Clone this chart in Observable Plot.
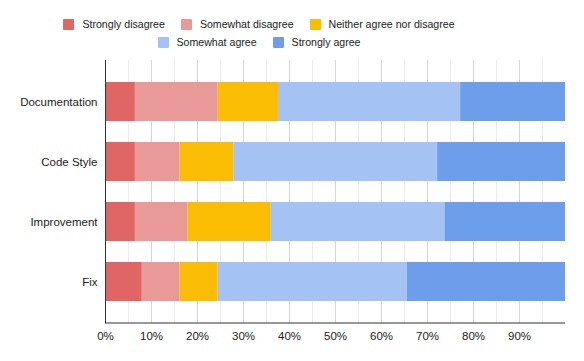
<!DOCTYPE html>
<html>
<head>
<meta charset="utf-8">
<script src="https://cdn.jsdelivr.net/npm/d3@7"></script>
<script src="https://cdn.jsdelivr.net/npm/@observablehq/plot@0.6"></script>
<style>
  html, body { margin: 0; padding: 0; background: #fff; }
  body { width: 584px; height: 361px; position: relative; overflow: hidden; font-family: "Liberation Sans", Arial, sans-serif; }
  #legend { position: absolute; left: 0; top: 15px; width: 518px; font-size: 10.6px; color: #222; }
  .row { display: flex; justify-content: center; height: 18px; align-items: center; }
  .item { display: flex; align-items: center; margin: 0 8px; }
  .sw { width: 11px; height: 11px; border-radius: 1px; margin-right: 8px; }
  #chart { position: absolute; left: 0; top: 55px; }
</style>
</head>
<body>
<div id="legend"></div>
<div id="chart"></div>
<script>
const categories = ["Documentation", "Code Style", "Improvement", "Fix"];
const responses = ["Strongly disagree", "Somewhat disagree", "Neither agree nor disagree", "Somewhat agree", "Strongly agree"];
const colors = ["#e06666", "#ea9999", "#fbbc04", "#a4c2f4", "#6d9eeb"];
const stronglyDisagree = [6.5, 6.5, 6.5, 8.0];
const somewhatDisagree = [18.0, 9.7, 11.4, 8.2];
const neither = [13.1, 11.7, 18.0, 8.3];
const somewhatAgree = [39.6, 44.3, 37.9, 41.1];
const stronglyAgree = [22.8, 27.8, 26.2, 34.4];
const xTicks = [0, 10, 20, 30, 40, 50, 60, 70, 80, 90];
const minorGrid = [5, 15, 25, 35, 45, 55, 65, 75, 85, 95];
const majorGrid = [10, 20, 30, 40, 50, 60, 70, 80, 90];

const series = [stronglyDisagree, somewhatDisagree, neither, somewhatAgree, stronglyAgree];
const data = [];
categories.forEach((c, i) => {
  responses.forEach((r, j) => data.push({category: c, response: r, value: series[j][i]}));
});

// legend
const legend = document.getElementById("legend");
const rows = [[0, 1, 2], [3, 4]];
rows.forEach(idx => {
  const row = document.createElement("div");
  row.className = "row";
  idx.forEach(j => {
    const it = document.createElement("div");
    it.className = "item";
    const sw = document.createElement("span");
    sw.className = "sw";
    sw.style.background = colors[j];
    const t = document.createElement("span");
    t.textContent = responses[j];
    it.appendChild(sw); it.appendChild(t);
    row.appendChild(it);
  });
  legend.appendChild(row);
});

const chart = Plot.plot({
  width: 584,
  height: 300,
  marginLeft: 105,
  marginRight: 19,
  marginTop: 5,
  marginBottom: 32,
  style: {fontFamily: "'Liberation Sans', Arial, sans-serif", fontSize: "11.5px", color: "#222", background: "#fff"},
  x: {domain: [0, 100], label: null},
  y: {domain: categories, padding: 0.35, label: null},
  color: {domain: responses, range: colors},
  marks: [
    Plot.ruleX(minorGrid, {stroke: "#ececec", strokeOpacity: 1}),
    Plot.ruleX(majorGrid, {stroke: "#d6d6d6", strokeOpacity: 1}),
    Plot.barX(data, Plot.stackX({x: "value", y: "category", fill: "response", order: responses, inset: 0})),
    Plot.axisX({ticks: xTicks, tickFormat: d => d + "%", tickSize: 0, tickPadding: 8, label: null, fill: "#222"}),
    Plot.axisY({tickSize: 0, tickPadding: 8, label: null, fill: "#222"}),
    Plot.ruleX([0], {stroke: "#333", strokeOpacity: 1}),
  ]
});
document.getElementById("chart").appendChild(chart);
// bottom axis line
const svg = d3.select(chart);
svg.append("line").attr("x1", 105).attr("x2", 565).attr("y1", 268).attr("y2", 268).attr("stroke", "#333");
</script>
</body>
</html>
